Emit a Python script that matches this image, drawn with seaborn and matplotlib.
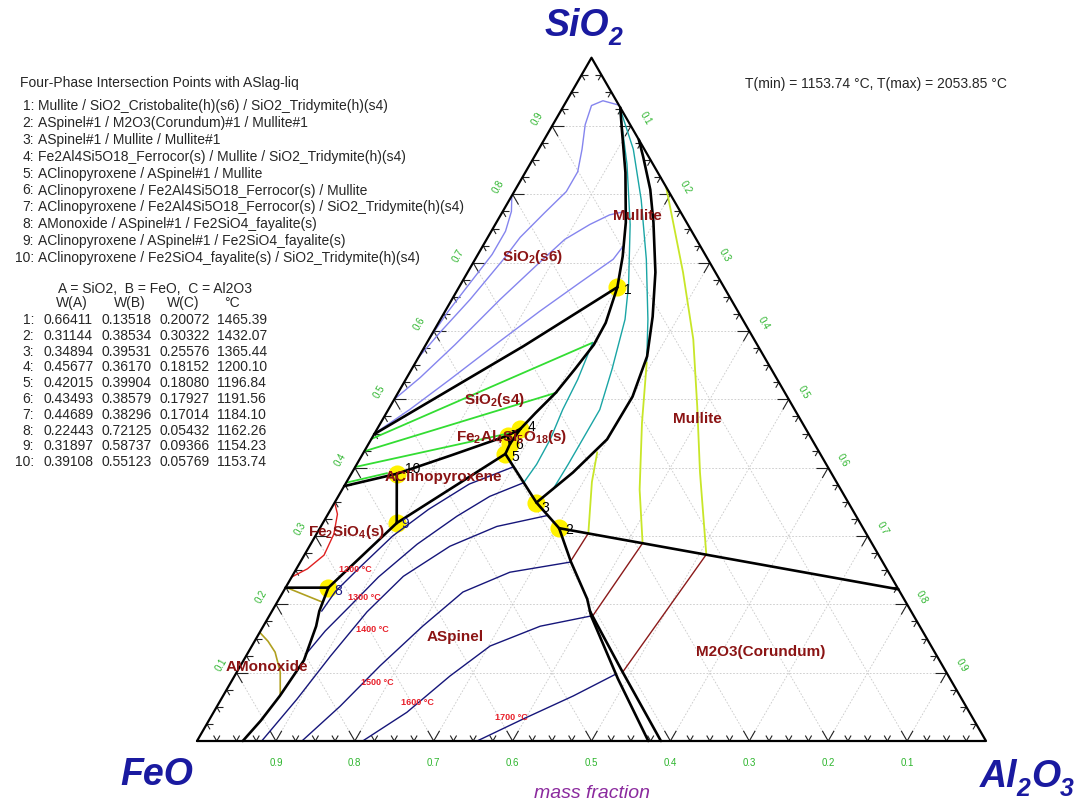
import numpy as np
import matplotlib
matplotlib.use("Agg")
import matplotlib.pyplot as plt
import seaborn as sns
from matplotlib.collections import LineCollection

# ---------------- DATA (mass fractions: SiO2, Al2O3 ; FeO = rest) ----------------

pt_label = ["1", "2", "3", "4", "5", "6", "7", "8", "9", "10"]
pt_sio2 = [0.66411, 0.31144, 0.34894, 0.45677, 0.42015, 0.43493, 0.44689, 0.22443, 0.31897, 0.39108]
pt_feo = [0.13518, 0.38534, 0.39531, 0.36170, 0.39904, 0.38579, 0.38296, 0.72125, 0.58737, 0.55123]
pt_al2o3 = [0.20072, 0.30322, 0.25576, 0.18152, 0.18080, 0.17927, 0.17014, 0.05432, 0.09366, 0.05769]
pt_temp = [1465.39, 1432.07, 1365.44, 1200.10, 1196.84, 1191.56, 1184.10, 1162.26, 1154.23, 1153.74]

pt_names = [
    "Mullite / SiO2_Cristobalite(h)(s6) / SiO2_Tridymite(h)(s4)",
    "ASpinel#1 / M2O3(Corundum)#1 / Mullite#1",
    "ASpinel#1 / Mullite / Mullite#1",
    "Fe2Al4Si5O18_Ferrocor(s) / Mullite / SiO2_Tridymite(h)(s4)",
    "AClinopyroxene / ASpinel#1 / Mullite",
    "AClinopyroxene / Fe2Al4Si5O18_Ferrocor(s) / Mullite",
    "AClinopyroxene / Fe2Al4Si5O18_Ferrocor(s) / SiO2_Tridymite(h)(s4)",
    "AMonoxide / ASpinel#1 / Fe2SiO4_fayalite(s)",
    "AClinopyroxene / ASpinel#1 / Fe2SiO4_fayalite(s)",
    "AClinopyroxene / Fe2SiO4_fayalite(s) / SiO2_Tridymite(h)(s4)",
]

P = list(zip(pt_sio2, pt_al2o3))

# phase boundaries (SiO2, Al2O3)
bd_s6_s4 = [(0.449, 0.0), (0.578, 0.125), P[0]]
bd_s6_mull = [P[0], (0.709, 0.185), (0.759, 0.164), (0.832, 0.127), (0.895, 0.091), (0.927, 0.073)]
bd_s4_mull = [P[0], (0.612, 0.212), (0.580, 0.213), (0.545, 0.207), (0.510, 0.200), (0.480, 0.189), P[3]]
bd_fer_s4 = [P[6], P[3]]
bd_fer_mull = [P[3], P[5]]
bd_cpx_fer = [P[6], P[5]]
bd_cpx_mull = [P[5], P[4]]
bd_fa_s4 = [(0.373, 0.0), P[9]]
bd_cpx_s4 = [P[9], (0.418, 0.113), P[6]]
bd_cpx_fa = [P[9], P[8]]
bd_cpx_sp = [P[8], P[4]]
bd_fa_sp = [P[8], P[7]]
bd_mo_fa = [P[7], (0.2244, 0.0)]
bd_mo_sp = [P[7], (0.190, 0.060), (0.168, 0.067), (0.118, 0.0765), (0.066, 0.072), (0.030, 0.066), (0.0, 0.058)]
bd_sp_mull = [P[4], P[2], P[1]]
bd_sp_cor = [P[1], (0.262, 0.343), (0.208, 0.3905), (0.183, 0.408), (0.091, 0.488), (0.0, 0.572)]
bd_sp_cor2 = [(0.190, 0.403), (0.105, 0.485), (0.0, 0.588)]
bd_cor_mull1 = [P[1], (0.222, 0.778)]
bd_mull_mull1 = [P[2], (0.393, 0.280), (0.4415, 0.299), (0.504, 0.300), (0.563, 0.289), (0.621, 0.267),
                 (0.686, 0.238), (0.759, 0.199), (0.807, 0.171), (0.855, 0.138), (0.880, 0.120)]

# isotherms
lav_1 = [(0.798, 0.0), (0.775, 0.011), (0.746, 0.018), (0.712, 0.018), (0.671, 0.011), (0.629, 0.004), (0.588, 0.0)]
lav_2 = [(0.931, 0.068), (0.937, 0.046), (0.930, 0.035), (0.902, 0.041), (0.866, 0.055), (0.833, 0.066),
         (0.804, 0.066), (0.773, 0.054), (0.737, 0.041), (0.705, 0.036), (0.646, 0.023), (0.598, 0.009), (0.561, 0.0)]
lav_3 = [(0.775, 0.155), (0.770, 0.138), (0.756, 0.120), (0.734, 0.099), (0.705, 0.086), (0.646, 0.061),
         (0.580, 0.037), (0.532, 0.017), (0.500, 0.0)]
lav_4 = [(0.724, 0.178), (0.705, 0.175), (0.671, 0.150), (0.629, 0.120), (0.583, 0.090), (0.529, 0.056),
         (0.485, 0.027), (0.450, 0.0)]

grn_1 = [(0.442, 0.0), (0.583, 0.210)]
grn_2 = [(0.424, 0.0), (0.510, 0.201)]
grn_3 = [(0.401, 0.0), (0.452, 0.176)]
grn_4 = [(0.378, 0.0), (0.392, 0.045)]

tel_a = [(0.583, 0.210), (0.529, 0.218), (0.485, 0.221), (0.4415, 0.227), (0.405, 0.228), (0.378, 0.225)]
tel_b = [(0.924, 0.074), (0.844, 0.123), (0.756, 0.171), (0.668, 0.213), (0.617, 0.234), (0.544, 0.254),
         (0.485, 0.268), (0.4415, 0.268), (0.405, 0.268), (0.368, 0.267)]
tel_c = [(0.921, 0.077), (0.866, 0.120), (0.792, 0.167), (0.705, 0.217), (0.617, 0.263), (0.556, 0.292)]

ylg_1 = [(0.4225, 0.296), (0.379, 0.311), (0.304, 0.344)]
ylg_2 = [(0.554, 0.293), (0.466, 0.331), (0.368, 0.377), (0.2895, 0.420)]
ylg_3 = [(0.811, 0.189), (0.759, 0.224), (0.686, 0.273), (0.588, 0.335), (0.490, 0.389), (0.393, 0.441), (0.273, 0.509)]

cor_1 = [(0.304, 0.344), (0.263, 0.342)]
cor_2 = [(0.2895, 0.420), (0.183, 0.410)]
cor_3 = [(0.273, 0.509), (0.100, 0.489)]

nav_1200 = [(0.190, 0.063), (0.219, 0.066), (0.256, 0.080), (0.300, 0.098), (0.339, 0.124), (0.376, 0.157), (0.401, 0.200)]
nav_1300 = [(0.127, 0.0745), (0.161, 0.082), (0.197, 0.095), (0.240, 0.110), (0.288, 0.135), (0.329, 0.165),
            (0.358, 0.192), (0.378, 0.225)]
nav_1400 = [(0.0, 0.082), (0.061, 0.096), (0.124, 0.107), (0.189, 0.121), (0.241, 0.141), (0.285, 0.178),
            (0.314, 0.223), (0.330, 0.279)]
nav_1500 = [(0.0, 0.133), (0.051, 0.156), (0.110, 0.177), (0.168, 0.202), (0.218, 0.228), (0.247, 0.273), (0.262, 0.343)]
nav_1600 = [(0.0, 0.210), (0.042, 0.245), (0.095, 0.273), (0.139, 0.302), (0.168, 0.351), (0.183, 0.408)]
nav_1700 = [(0.0, 0.355), (0.032, 0.397), (0.066, 0.444), (0.098, 0.482)]

red_fa = [(0.349, 0.0), (0.332, 0.012), (0.303, 0.022), (0.272, 0.025), (0.252, 0.014), (0.240, 0.0)]
olv_1 = [(0.225, 0.0), (0.203, 0.058)]
olv_2 = [(0.159, 0.0), (0.146, 0.017), (0.130, 0.034), (0.101, 0.055), (0.069, 0.071)]

# ---------------- FIGURE ----------------

W, H = 1078, 803
X0, Y0, SIDE = 197, 742, 789
R3 = np.sqrt(3) / 2

sns.set_theme(style="white")
plt.rcParams["font.family"] = ["Liberation Sans", "DejaVu Sans"]
plt.rcParams["mathtext.fontset"] = "custom"
plt.rcParams["mathtext.rm"] = "Liberation Sans"
plt.rcParams["mathtext.bf"] = "Liberation Sans:bold"

fig = plt.figure(figsize=(W / 100, H / 100), dpi=100)
ax = fig.add_axes([0, 0, 1, 1])
ax.set_xlim(-X0 / SIDE, (W - X0) / SIDE)
ax.set_ylim((Y0 - H) / SIDE, Y0 / SIDE)
ax.axis("off")
renderer = fig.canvas.get_renderer()


def tern(pts):
    s = np.array([p[0] for p in pts], float)
    a = np.array([p[1] for p in pts], float)
    return a + s / 2, s * R3


def draw(pts, color, lw, z=3):
    x, y = tern(pts)
    sns.lineplot(x=x, y=y, sort=False, estimator=None, color=color, linewidth=lw, ax=ax, zorder=z)


def ftxt(x, y, s, **kw):
    kw.setdefault("va", "center")
    return fig.text(x / W, 1 - y / H, s, **kw)


def chem(parts):
    out = ""
    for t, sub in parts:
        if t:
            out += r"\mathbf{%s}" % t
        if sub:
            out += r"_{\mathbf{%s}}" % sub
    return "$" + out + "$"


def corner(x, y, parts, size, color):
    # bold italic formula with subscripts, left edge at x, baseline at y (pixels)
    cx = x
    for t, sub in parts:
        if t:
            tt = ftxt(cx, y, t, fontsize=size, color=color, style="italic", fontweight="bold",
                      ha="left", va="baseline")
            cx += tt.get_window_extent(renderer).width
        if sub:
            ts = ftxt(cx - 1, y + size * 0.32, sub, fontsize=size * 0.66, color=color, style="italic",
                      fontweight="bold", ha="left", va="baseline")
            cx += ts.get_window_extent(renderer).width


# grid
for k in range(1, 10):
    f = k / 10
    for seg in ([(f, 0), (f, 1 - f)], [(0, f), (1 - f, f)], [(0, 1 - f), (1 - f, 0)]):
        gx, gy = tern(seg)
        ax.plot(gx, gy, color="#c8c8c8", lw=0.6, ls=(0, (2, 2)), zorder=1)

# ticks
segs = []
for k in range(1, 40):
    f = k / 40
    L = 0.015 if k % 4 == 0 else 0.008
    bx, by = f, 0.0
    lx, ly = f / 2, f * R3
    rx, ry = f + (1 - f) / 2, (1 - f) * R3
    for (px0, py0), dirs in (((bx, by), [(0.5, R3), (-0.5, R3)]),
                             ((lx, ly), [(1, 0), (0.5, -R3)]),
                             ((rx, ry), [(-1, 0), (-0.5, -R3)])):
        for dx, dy in dirs:
            segs.append([(px0, py0), (px0 + L * dx, py0 + L * dy)])
ax.add_collection(LineCollection(segs, colors="#222222", linewidths=0.8, zorder=2))

# tick labels
green = "#2db52d"
for k in range(1, 10):
    f = k / 10
    off = 0.0215
    ax.text(f / 2 - off * R3, f * R3 + off * 0.5, f"{f:.1f}", color=green, fontsize=7,
            rotation=60, ha="center", va="center")
    ax.text(f + (1 - f) / 2 + off * R3, (1 - f) * R3 + off * 0.5, f"{f:.1f}", color=green, fontsize=7,
            rotation=-60, ha="center", va="center")
    ax.text(1 - f, -0.026, f"{f:.1f}", color=green, fontsize=7, ha="center", va="center")

# isotherms
for c in (lav_1, lav_2, lav_3, lav_4):
    draw(c, "#8585ee", 1.0)
for c in (grn_1, grn_2, grn_3, grn_4):
    draw(c, "#33dd33", 1.3)
for c in (tel_a, tel_b, tel_c):
    draw(c, "#1aa5a5", 1.0)
for c in (ylg_1, ylg_2, ylg_3):
    draw(c, "#c8e628", 1.3)
for c in (cor_1, cor_2, cor_3):
    draw(c, "#8b1a1a", 1.0)
for c in (nav_1200, nav_1300, nav_1400, nav_1500, nav_1600, nav_1700):
    draw(c, "#16167a", 1.0)
draw(red_fa, "#e02020", 1.0)
for c in (olv_1, olv_2):
    draw(c, "#b0a020", 1.2)

# invariant points (under lines)
ix, iy = tern(P)
sns.scatterplot(x=ix, y=iy, s=170, color="#fff200", linewidth=0, ax=ax, zorder=2.5)

# boundaries
for c in (bd_s6_s4, bd_s6_mull, bd_s4_mull, bd_fer_s4, bd_fer_mull, bd_cpx_fer, bd_cpx_mull,
          bd_fa_s4, bd_cpx_s4, bd_cpx_fa, bd_cpx_sp, bd_fa_sp, bd_mo_fa, bd_mo_sp, bd_sp_mull,
          bd_sp_cor, bd_sp_cor2, bd_cor_mull1, bd_mull_mull1):
    draw(c, "black", 1.9, z=4)

# triangle
draw([(0.0, 0.0), (0.0, 1.0), (1.0, 0.0), (0.0, 0.0)], "black", 1.6, z=4)

# point numbers
num_off = [(7, -2), (6, -1), (5, -4), (7, 3), (6, -2), (5, 0), (3, 1), (6, -2), (5, 0), (8, 6)]
num_col = ["black"] * 7 + ["#1a1a80", "#1a1a80", "black"]
for lbl, x, y, o, col in zip(pt_label, ix, iy, num_off, num_col):
    ax.annotate(lbl, (x, y), xytext=o, textcoords="offset pixels", fontsize=10,
                color=col, ha="left", va="center", zorder=6)

# phase labels
dred = "#8b1414"
phase_lbl = [
    ("Mullite", 637, 216),
    (chem([("SiO", "2"), ("(s6)", "")]), 533, 257),
    ("Mullite", 697, 419),
    (chem([("SiO", "2"), ("(s4)", "")]), 495, 400),
    (chem([("Fe", "2"), ("Al", "4"), ("Si", "5"), ("O", "18"), ("(s)", "")]), 512, 437),
    ("AClinopyroxene", 443, 477),
    (chem([("Fe", "2"), ("SiO", "4"), ("(s)", "")]), 347, 532),
    ("ASpinel", 455, 637),
    ("AMonoxide", 267, 667),
    ("M2O3(Corundum)", 761, 652),
]
for s, x, y in phase_lbl:
    ftxt(x, y, s, color=dred, fontsize=11, fontweight="bold", ha="center", zorder=7)

# isotherm temperature labels
temp_lbl = [("1200 °C", 355, 570), ("1300 °C", 364, 598), ("1400 °C", 372, 630),
            ("1500 °C", 377, 683), ("1600 °C", 417, 703), ("1700 °C", 511, 718)]
for s, x, y in temp_lbl:
    ftxt(x, y, s, color="#e8202a", fontsize=6.5, fontweight="bold", ha="center", zorder=7)

# corner labels
blue = "#1a1aa0"
corner(545, 36, [("SiO", "2")], 27, blue)
corner(120, 785, [("FeO", "")], 27, blue)
corner(980, 787, [("Al", "2"), ("O", "3")], 27, blue)
ftxt(592, 794, "mass fraction", color="#8b2a9e", fontsize=14, style="italic", ha="center")

# text block: invariant point list
ftxt(20, 83, "Four-Phase Intersection Points with ASlag-liq", fontsize=10, ha="left")
for i, name in enumerate(pt_names):
    y = 106 + 16.9 * i
    ftxt(34, y, f"{pt_label[i]}:", fontsize=10, ha="right")
    ftxt(38, y, name, fontsize=10, ha="left")

ftxt(155, 289, "A = SiO2,  B = FeO,  C = Al2O3", fontsize=10, ha="center")
for s, x in (("W(A)", 72), ("W(B)", 130), ("W(C)", 183), ("°C", 232)):
    ftxt(x, 303, s, fontsize=10, ha="center")
for i in range(10):
    y = 320 + 15.8 * i
    ftxt(34, y, f"{pt_label[i]}:", fontsize=10, ha="right")
    for val, x in ((f"{pt_sio2[i]:.5f}", 43), (f"{pt_feo[i]:.5f}", 101),
                   (f"{pt_al2o3[i]:.5f}", 159), (f"{pt_temp[i]:.2f}", 217)):
        ftxt(x, y, val, fontsize=10, ha="left")

ftxt(745, 84, "T(min) = 1153.74 °C, T(max) = 2053.85 °C", fontsize=10, ha="left")

fig.savefig("out.png", dpi=100, facecolor="white")
